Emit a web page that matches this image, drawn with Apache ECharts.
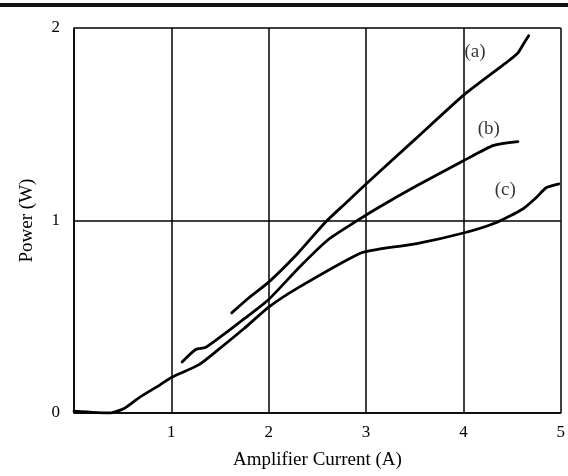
<!DOCTYPE html>
<html>
<head>
<meta charset="utf-8">
<script src="https://cdn.jsdelivr.net/npm/echarts@6/dist/echarts.min.js"></script>
<style>
html,body{margin:0;padding:0;background:#fff;}
#chart{width:568px;height:476px;}
</style>
</head>
<body>
<div id="chart"></div>
<script>
// Curve data: [Amplifier Current (A), Power (W)]
const curveA = [[1.62,0.52],[1.8,0.6],[2.0,0.68],[2.3,0.83],[2.58,0.99],[2.79,1.09],[3.0,1.19],[3.5,1.42],[4.0,1.65],[4.44,1.82],[4.56,1.87],[4.62,1.92],[4.67,1.96]];
const curveB = [[1.11,0.265],[1.25,0.33],[1.35,0.34],[1.49,0.39],[1.75,0.49],[2.0,0.59],[2.32,0.76],[2.61,0.90],[2.88,0.99],[3.12,1.065],[3.52,1.18],[4.0,1.31],[4.31,1.39],[4.56,1.41]];
const curveC = [[0.0,0.01],[0.37,0.0],[0.52,0.025],[0.67,0.08],[0.88,0.145],[1.0,0.185],[1.28,0.25],[1.46,0.32],[1.75,0.44],[2.0,0.55],[2.3,0.65],[2.94,0.83],[3.12,0.85],[3.52,0.88],[4.0,0.935],[4.34,0.99],[4.61,1.06],[4.75,1.12],[4.85,1.17],[4.98,1.19]];
const curveLabels = ['(a)','(b)','(c)'];
const labelPos = [[4.12,1.875],[4.26,1.475],[4.43,1.16]];
const xTicks = [0,1,2,3,4,5];
const yTicks = [0,1,2];

const chart = echarts.init(document.getElementById('chart'));
const font = '"Liberation Serif", "DejaVu Serif", serif';
const lineStyle = {color:'#000', width:2.8, join:'round', cap:'round'};
function curve(d){
  return {type:'line', data:d, showSymbol:false, smooth:0.2, lineStyle:lineStyle, silent:true, z:5};
}
chart.setOption({
  animation:false,
  backgroundColor:'#fff',
  graphic:[{type:'rect', shape:{x:0,y:3,width:568,height:4}, style:{fill:'#111'}}],
  grid:{left:74,right:2,top:28,bottom:63},
  xAxis:{type:'value', min:0, max:5, interval:1,
    name:'Amplifier Current (A)', nameLocation:'middle', nameGap:38,
    nameTextStyle:{fontFamily:font, fontSize:19, color:'#000'},
    axisLine:{show:true, lineStyle:{color:'#000', width:1.5}},
    axisTick:{show:false},
    axisLabel:{fontFamily:font, fontSize:17, color:'#000', margin:11,
      formatter:v=> (v===0 ? '' : String(xTicks[v]))},
    splitLine:{show:true, lineStyle:{color:'#000', width:1.5}}
  },
  yAxis:{type:'value', min:0, max:2, interval:1,
    name:'Power (W)', nameLocation:'middle', nameGap:37,
    nameTextStyle:{fontFamily:font, fontSize:19, color:'#000'},
    axisLine:{show:true, lineStyle:{color:'#000', width:1.5}},
    axisTick:{show:false},
    axisLabel:{fontFamily:font, fontSize:17, color:'#000', margin:14,
      formatter:v=>String(yTicks[v])},
    splitLine:{show:true, lineStyle:{color:'#000', width:1.5}}
  },
  series:[
    curve(curveA), curve(curveB), curve(curveC),
    {type:'scatter', symbolSize:0, silent:true,
      data:labelPos.map((p,i)=>({value:p, name:curveLabels[i]})),
      label:{show:true, position:'inside', formatter:p=>p.name,
        fontFamily:font, fontSize:19, color:'#000'}}
  ]
});
</script>
</body>
</html>
